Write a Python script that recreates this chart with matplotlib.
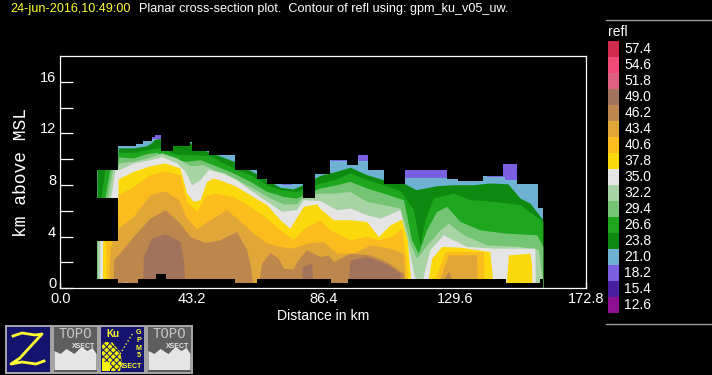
import matplotlib
matplotlib.use("Agg")
import matplotlib.pyplot as plt
from matplotlib.patches import Rectangle, Polygon

plt.rcParams["font.family"] = ["Liberation Sans", "DejaVu Sans"]
plt.rcParams["hatch.linewidth"] = 0.7

# legend, top to bottom
legend_levels = ["57.4", "54.6", "51.8", "49.0", "46.2", "43.4", "40.6", "37.8", "35.0",
                 "32.2", "29.4", "26.6", "23.8", "21.0", "18.2", "15.4", "12.6"]
legend_colors = ["#d02a4c", "#f04a76", "#e0607f", "#a1725c", "#bd864d", "#e0a638", "#fbbc1e",
                 "#fbd90d", "#e5e5e5", "#a8d3a5", "#74c573", "#1ea71e", "#0f8a10", "#6eb1d2",
                 "#7a60e0", "#4a1ea0", "#8c1090"]
level_color = dict(zip(legend_levels, legend_colors))

# top of the radar echo (km), stepped
echo_x = [12.05, 18.95, 24.86, 27.27, 30, 31.1, 33.07, 37.1, 42.6, 43.4, 48.84, 57.4, 64.5, 67.8,
          79.8, 83.66, 88.6, 94.06, 97.7, 101, 106.3, 113.2, 127.2, 130.7, 139, 145.5, 149.9, 157, 158.5]
echo_top = [9.2, 11.06, 11.15, 11.4, 11.74, 11.84, 10.62, 11.0, 11.3, 10.62, 10.36, 9.2, 8.47, 8.1,
            7.02, 8.89, 9.97, 9.59, 10.36, 9.2, 8.1, 9.2, 8.47, 8.29, 8.7, 9.6, 8.1, 6.22, 6.22]
# lowest sampled height (km), stepped
floor_x = [12.05, 18.95, 25.6, 31.4, 34.7, 57.4, 64.5, 88.9, 94.6, 146.4, 157.6, 158.5]
floor_h = [0.73, 0.44, 0.73, 1.11, 0.73, 0.44, 0.73, 0.44, 0.73, 0.44, 0.73, 0.73]
# missing block at the left edge
gap_x = [12.05, 18.95]
gap_low = [3.68, 3.68]
gap_high = [7.0, 7.0]

# 18.2 shows wherever the 21.0 top stays below the echo top
x_182 = [12.05, 158.5]
top_182 = [13, 13]
x_210 = [12.05, 30, 33.07, 72.7, 76, 88.9, 94.06, 97.7, 101, 113.2, 127.2, 130.7, 139, 140.1, 146.1, 149.9, 158.5]
top_210 = [13, 11.53, 13, 8.03, 13, 9.84, 13, 9.84, 13, 8.55, 13, 8.29, 13, 8.6, 8.42, 13, 13]

x_238 = [12.05, 18.9, 19, 24, 28.4, 30, 31.1, 32.7, 38.2, 42.6, 48.1, 53.6, 57.4, 62.3, 67.8, 72.2, 76.5,
         79.8, 85.3, 90.8, 95.2, 100.6, 106.1, 112.7, 116.9, 123.6, 129.1, 135.8, 141, 147, 151, 154.3, 158.5]
top_238 = [9.5, 9.5, 10.88, 10.88, 11.05, 11.3, 11.55, 11.6, 11.1, 11.3, 10.62, 10.15, 9.8, 9.15, 8.42, 7.82, 7.7,
           8.03, 8.75, 9.07, 9.38, 8.81, 8.42, 8.16, 7.64, 7.95, 8.03, 8.03, 8.16, 8.1, 7.0, 6.6, 5.31]

x_266 = [12.05, 13.25, 14.7, 18.9, 19, 24, 28.4, 32.7, 38.2, 43.7, 49.2, 53.6, 57.9, 62.3, 67.8, 72.2, 77.6,
         79.8, 85.3, 89.7, 95.2, 100.6, 106.1, 111.6, 116, 118.2, 119.8, 122.5, 129.1, 134.6, 142.2, 151, 158.5]
top_266 = [5.5, 7.0, 9.2, 9.5, 10.54, 10.54, 10.75, 10.88, 10.36, 10.36, 10.28, 9.72, 9.2, 8.81, 8.03, 7.64, 7.51,
           7.7, 8.16, 8.42, 8.94, 8.42, 8.03, 7.56, 6.1, 3.24, 5.31, 6.99, 7.38, 6.87, 6.74, 6.48, 5.18]

x_294 = [12.05, 14.6, 16.3, 18.9, 19, 24, 28.4, 31.6, 37.1, 41.5, 45.9, 51.4, 56.8, 62.3, 67.8, 73.3, 77.6,
         79.8, 85.3, 90.8, 95.2, 100.6, 106.1, 112.7, 115.4, 117.6, 120.3, 123.6, 126.9, 131.3, 137.9, 146.6, 156.5, 158.5]
top_294 = [4.5, 7.0, 9.2, 9.5, 10.18, 10.1, 10.44, 10.54, 9.97, 9.84, 9.97, 9.46, 8.94, 8.29, 7.51, 7.12, 6.99,
           7.25, 7.77, 8.03, 8.29, 7.77, 7.38, 6.87, 3.76, 2.72, 4.53, 5.96, 6.35, 5.18, 4.53, 4.27, 4.15, 3.24]

x_322 = [12.05, 12.9, 15.45, 17.2, 18.9, 19, 24, 28.4, 33.3, 38.2, 42.6, 47, 51.4, 56.8, 62.3, 67.8, 73.3, 77.6,
         79.8, 85.3, 90.8, 95.2, 100.6, 106.1, 111.6, 114.9, 117, 120.9, 124.7, 127.5, 132.4, 140.1, 151, 157, 157.6, 158.5]
top_322 = [3.8, 3.8, 7, 9.2, 9.5, 9.72, 9.84, 10.1, 10.49, 10.1, 9.5, 9.57, 9.07, 8.55, 7.9, 7.12, 6.55, 6.55,
           7.12, 7.38, 7.38, 7.51, 6.74, 6.48, 6.22, 3.5, 2.33, 3.5, 4.53, 5.05, 4.15, 3.37, 3.24, 2.98, 2.0, 0.7]

x_350 = [12.9, 13, 16.5, 18, 18.9, 19, 24, 29.5, 33.3, 38.2, 41, 43.15, 45.9, 48.6, 53.6, 57.9, 62.3, 67.8, 72.7, 77.6,
         79.8, 85.3, 90.8, 95.2, 100.6, 105, 111.6, 114, 116.5, 116.8, 119, 119.2, 121.4, 125.8, 129.1, 133.5, 142.2, 155.9, 156, 158.5]
top_350 = [0, 3.8, 7, 9.2, 9.3, 9.15, 9.72, 9.97, 10.2, 9.72, 9.07, 8.03, 8.42, 9.2, 8.94, 8.42, 7.64, 6.74, 5.96, 6.09,
           6.87, 6.8, 6.09, 6.22, 5.7, 5.44, 6.09, 3.5, 0.78, 0, 0, 0.9, 2.98, 4.15, 3.76, 3.24, 3.11, 3.11, 0, 0]

x_378 = [13.8, 13.9, 18.9, 19, 24, 29.5, 34.4, 39.3, 41.5, 43.7, 45.9, 48.1, 50.3, 53.6, 57.9, 62.3, 67.8, 72.2, 75.4,
         79.8, 84.2, 85.3, 89.7, 95.2, 100.6, 104.5, 108.3, 112.1, 114, 115.1, 115.4, 120.3, 120.9, 122, 125.3, 131.3,
         141.1, 142, 142.2, 146.4, 146.6, 147.2, 154.3, 154.8, 155, 158.5]
top_378 = [0, 3.8, 6.5, 8.47, 9.07, 9.5, 9.72, 9.33, 7.38, 6.74, 6.87, 8.29, 8.55, 8.29, 7.9, 7.25, 6.48, 5.31, 4.66,
           6.35, 6.55, 6.2, 5.31, 5.31, 5.18, 4.02, 4.92, 5.36, 3.76, 0.6, 0, 0, 0.73, 2.33, 3.24, 3.19,
           2.85, 0.7, 0, 0, 0.7, 2.59, 2.72, 1.94, 0, 0]

x_406 = [14.9, 15, 18.9, 19, 24, 29.5, 34.4, 39.3, 41.5, 44.8, 47.5, 50.3, 56.8, 62.3, 67.8, 72.2, 76.5, 80.9, 85.3,
         88.6, 95.2, 100.6, 104.5, 108.8, 112.1, 113.5, 114, 114.2, 122.5, 123.1, 126.4, 139, 139.2, 139.4, 158.5]
top_406 = [0, 3.8, 6.5, 7.25, 7.9, 8.81, 9.07, 8.81, 6.74, 5.96, 7.12, 7.38, 7.12, 6.35, 5.44, 4.53, 3.8, 4.79, 5.31,
           4.53, 3.76, 4.02, 3.76, 4.02, 4.66, 2.46, 0.73, 0, 0, 0.73, 2.85, 2.85, 0.73, 0, 0]

x_434 = [15.9, 16.3, 17.2, 18.9, 19, 24, 29.5, 34.4, 38.8, 41.5, 44.8, 49.2, 54.6, 57.9, 63.4, 67.8, 72.2, 76.5, 80.9,
         86.4, 90.8, 96.3, 101.7, 108.3, 112.7, 113.2, 113.4, 124.5, 124.7, 127.5, 136.8, 137, 158.5]
top_434 = [0, 3, 3.8, 6, 4.66, 5.57, 7.25, 7.56, 6.87, 5.44, 4.61, 5.31, 6.09, 5.44, 4.27, 3.5, 3.24, 3.11, 3.5,
           3.63, 2.72, 2.72, 3.37, 3.11, 2.72, 0.73, 0, 0, 0.73, 2.59, 2.59, 0, 0]

x_462 = [17.3, 17.5, 19, 24, 29.5, 34.4, 38.8, 42.6, 47.5, 52.4, 57.9, 61.2, 62.3, 63.4, 65, 66.1, 68.9, 71.6, 73.3,
         76.5, 77.6, 80.9, 85.3, 88, 89.7, 95.2, 101.7, 107.2, 112.7, 113.2, 125.8, 126, 127.5, 128.6, 128.8, 158.5]
top_462 = [0, 2.2, 2.6, 4.02, 5.44, 6.09, 5.18, 4.02, 3.55, 3.76, 4.4, 2.98, 1.94, 0, 0, 1.94, 2.77, 2.33, 1.55,
           1.5, 2.07, 2.98, 2.46, 2.59, 2.07, 2.72, 2.59, 2.07, 1.17, 0, 0, 0.73, 1.3, 0.73, 0, 0]

x_490 = [27, 27.27, 30, 34.4, 39.3, 40.6, 40.8, 79.3, 79.4, 82.6, 83.1, 94.6, 94.7, 95.2, 100.6, 106.7, 111.6, 111.9]
top_490 = [0, 2.46, 3.89, 4.22, 3.63, 1.94, 0, 0, 1.68, 1.94, 0, 0, 0.73, 2.2, 2.46, 1.94, 1.17, 0]

layers = [("18.2", x_182, top_182), ("21.0", x_210, top_210), ("23.8", x_238, top_238),
          ("26.6", x_266, top_266), ("29.4", x_294, top_294), ("32.2", x_322, top_322),
          ("35.0", x_350, top_350), ("37.8", x_378, top_378), ("40.6", x_406, top_406),
          ("43.4", x_434, top_434), ("46.2", x_462, top_462), ("49.0", x_490, top_490)]

x_ticks = [0, 21.6, 43.2, 64.8, 86.4, 108, 129.6, 151.2, 172.8]
x_tick_labels = ["0.0", "", "43.2", "", "86.4", "", "129.6", "", "172.8"]
y_ticks = [0, 4, 8, 12, 16]
y_minor = [2, 6, 10, 14]

W, H = 712, 375
MONO = ["Liberation Mono", "DejaVu Sans Mono"]
fig = plt.figure(figsize=(W / 100, H / 100), dpi=100, facecolor="black")


def px_axes(left, top, right, bottom):
    return fig.add_axes([left / W, 1 - bottom / H, (right - left) / W, (bottom - top) / H])


ax = px_axes(60.3, 56, 586.3, 288.3)
ax.set_facecolor("black")
for level, xs, tops in layers:
    if level == "21.0":
        # blue lid is blocky, everything else is a smooth contour
        ax.fill_between(xs, 0, tops, step="post", color=level_color[level], lw=0, antialiased=False)
    else:
        ax.fill_between(xs, 0, tops, color=level_color[level], lw=0, antialiased=False)

# cover what is outside the sampled echo
ax.fill_between(echo_x, echo_top, 18, step="post", color="black", lw=0, antialiased=False, zorder=2)
ax.fill_between(floor_x, 0, floor_h, step="post", color="black", lw=0, antialiased=False, zorder=2)
ax.fill_between(gap_x, gap_low, gap_high, color="black", lw=0, antialiased=False, zorder=2)

ax.set_xlim(0, 172.8)
ax.set_ylim(0, 18)
for side in ax.spines.values():
    side.set_color("white")
    side.set_linewidth(0.9)
    side.set_zorder(5)
ax.set_xticks(x_ticks)
ax.set_xticklabels(x_tick_labels, color="white", fontsize=10.5)
ax.set_yticks(y_ticks)
ax.set_yticklabels([str(v) for v in y_ticks], color="white", fontsize=10.5, va="baseline")
ax.set_yticks(y_minor, minor=True)
ax.tick_params(axis="x", direction="in", length=4.3, width=0.9, color="white", pad=3, zorder=5)
ax.tick_params(axis="y", which="both", direction="in", length=9.4, width=0.9, color="white", pad=3, zorder=5)
ax.set_xlabel("Distance in km", color="white", fontsize=10.1, labelpad=0)
ax.xaxis.set_label_coords(0.5, -0.09)
ax.set_ylabel("km above MSL", color="white", fontsize=13, family=MONO)
ax.yaxis.set_label_coords(-0.058, 0.5)

# title row
fig.text(10 / W, 1 - 9 / H, "24-jun-2016,10:49:00", color="#ffff33", fontsize=9.1, va="center")
fig.text(139 / W, 1 - 9 / H, "Planar cross-section plot.  Contour of refl using: gpm_ku_v05_uw.",
         color="white", fontsize=9.05, va="center")

# legend column
cax = px_axes(608, 41, 618.5, 313)
cax.axis("off")
n = len(legend_levels)
cax.barh(range(n), 1, height=1, color=legend_colors, linewidth=0)
cax.set_xlim(0, 1)
cax.set_ylim(n - 0.5, -0.5)
for i, label in enumerate(legend_levels):
    cax.text(1.55, i, label, color="white", fontsize=10, va="center", ha="left", clip_on=False)
fig.text(608 / W, 1 - 32.5 / H, "refl", color="white", fontsize=10, va="center")

# page furniture: separators and icon buttons
bg = fig.add_axes([0, 0, 1, 1], zorder=-1)
bg.set_xlim(0, W)
bg.set_ylim(H, 0)
bg.axis("off")
bg.plot([606, 712], [20, 20], color="#9a9a9a", lw=1)
bg.plot([606, 712], [324, 324], color="#9a9a9a", lw=1)

buttons = [(5.5, "#14146e"), (52.5, "#5e5e5e"), (99.5, "#14146e"), (146.5, "#5e5e5e")]
for bx, face in buttons:
    bg.add_patch(Rectangle((bx, 325.5), 45.5, 47, facecolor=face, edgecolor="#a8a8a8", lw=1.4))

# Z button
bg.plot([13, 22, 35, 42, 30, 20, 11, 22, 36, 44], [336, 333, 335, 334, 347, 358, 364, 362, 364, 361],
        color="#ffff33", lw=2)

# TOPO buttons
for bx in (52.5, 146.5):
    bg.text(bx + 23, 334.5, "TOPO", color="#c8c8c8", fontsize=10, ha="center", va="center", family=MONO)
    bg.text(bx + 31, 346, "XSECT", color="#e5e5e5", fontsize=5, ha="center", va="center", fontweight="bold")
    bg.add_patch(Polygon([(bx + 2, 370), (bx + 2, 351), (bx + 8, 354), (bx + 14, 349), (bx + 22, 354), (bx + 29, 347),
                          (bx + 35, 351), (bx + 40, 348), (bx + 44, 354), (bx + 44, 370)], facecolor="#e5e5e5", lw=0))

# GPM button
bg.add_patch(Polygon([(102, 371), (102, 342), (112, 342), (120, 352), (122, 362), (120, 371)],
                     facecolor="#f4f400", edgecolor="#14146e", hatch="xxxxx", lw=0))
bg.add_patch(Rectangle((102, 362), 8, 9, facecolor="#f4f400", lw=0))
bg.text(113, 334, "Ku", color="#ffff33", fontsize=7, ha="center", va="center", fontweight="bold")
bg.plot([120, 133], [354, 333], color="#ffff33", lw=1, ls=":")
for gy, letter in zip([333, 340.5, 348, 355.5], ["G", "P", "M", "5"]):
    bg.text(139, gy, letter, color="#ffff33", fontsize=5.2, ha="center", va="center", fontweight="bold")
bg.text(131, 366.5, "XSECT", color="#ffff33", fontsize=5, ha="center", va="center", fontweight="bold")

fig.savefig("out.png", dpi=100, facecolor="black")
